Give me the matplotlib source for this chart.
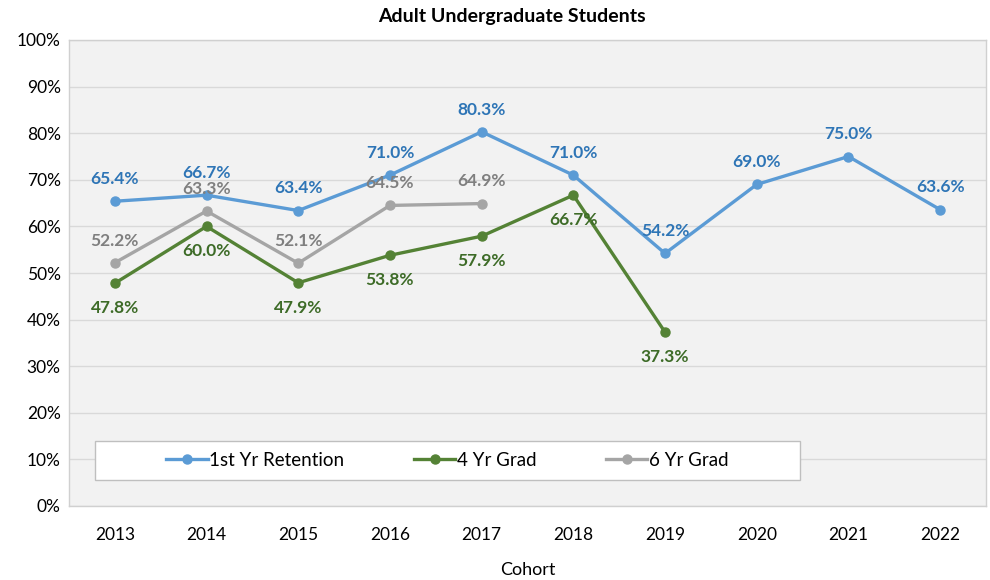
import matplotlib.pyplot as plt
from matplotlib.patches import Rectangle
import numpy as np

years = ['2013', '2014', '2015', '2016', '2017', '2018', '2019', '2020', '2021', '2022']
retention = [65.4, 66.7, 63.4, 71.0, 80.3, 71.0, 54.2, 69.0, 75.0, 63.6]
grad4 = [47.8, 60.0, 47.9, 53.8, 57.9, 66.7, 37.3]
grad6 = [52.2, 63.3, 52.1, 64.5, 64.9]

plt.rcParams['font.family'] = ['Lato', 'DejaVu Sans']

fig = plt.figure(figsize=(9.9, 5.8), dpi=100)
ax = fig.add_axes([69 / 990, 74 / 580, 917 / 990, 466 / 580])
ax.set_facecolor('#F2F2F2')

x = np.arange(len(years))

series = [
    (retention, '1st Yr Retention', '#5B9BD5', '#2E75B6', 'above'),
    (grad4, '4 Yr Grad', '#548235', '#3D6B27', 'below'),
    (grad6, '6 Yr Grad', '#A5A5A5', '#7F7F7F', 'above'),
]

for vals, name, color, tcolor, pos in series:
    xs = x[:len(vals)]
    ax.plot(xs, vals, color=color, lw=2.4, marker='o', ms=6.5, label=name, zorder=3)
    for xi, v in zip(xs, vals):
        dy = 16 if pos == 'above' else -18
        ax.annotate(f'{v:.1f}%', (xi, v), textcoords='offset points', xytext=(0, dy),
                    ha='center', va='center', fontsize=12.5, fontweight='bold', color=tcolor)

ax.set_xlim(-0.5, len(years) - 0.5)
ax.set_ylim(0, 100)
ax.set_xticks(x)
ax.set_xticklabels(years)
ax.set_yticks(range(0, 101, 10))
ax.set_yticklabels([f'{v}%' for v in range(0, 101, 10)])
ax.tick_params(axis='both', length=0, labelsize=12.5, colors='#000000')
ax.tick_params(axis='x', pad=15)
ax.tick_params(axis='y', pad=6)
ax.grid(axis='y', color='#D9D9D9', lw=1)
ax.set_axisbelow(True)
for s in ax.spines.values():
    s.set_color('#D0D0D0')
    s.set_linewidth(1)

ax.set_xlabel('Cohort', fontsize=13, labelpad=14)
ax.set_title('Adult Undergraduate Students', fontsize=14, fontweight='bold', pad=13, x=0.483)

# legend box
ax.add_patch(Rectangle((0.028, 0.056), 0.769, 0.083, transform=ax.transAxes,
                       facecolor='white', edgecolor='#BFBFBF', lw=1, zorder=4))
leg = ax.legend(loc='center', bbox_to_anchor=(0.4128, 0.0976), ncol=3, frameon=False,
                fontsize=13.5, handlelength=2.2, handletextpad=0.1, columnspacing=3.7,
                borderaxespad=0)
leg.set_zorder(5)

fig.savefig('out.png', dpi=100)
